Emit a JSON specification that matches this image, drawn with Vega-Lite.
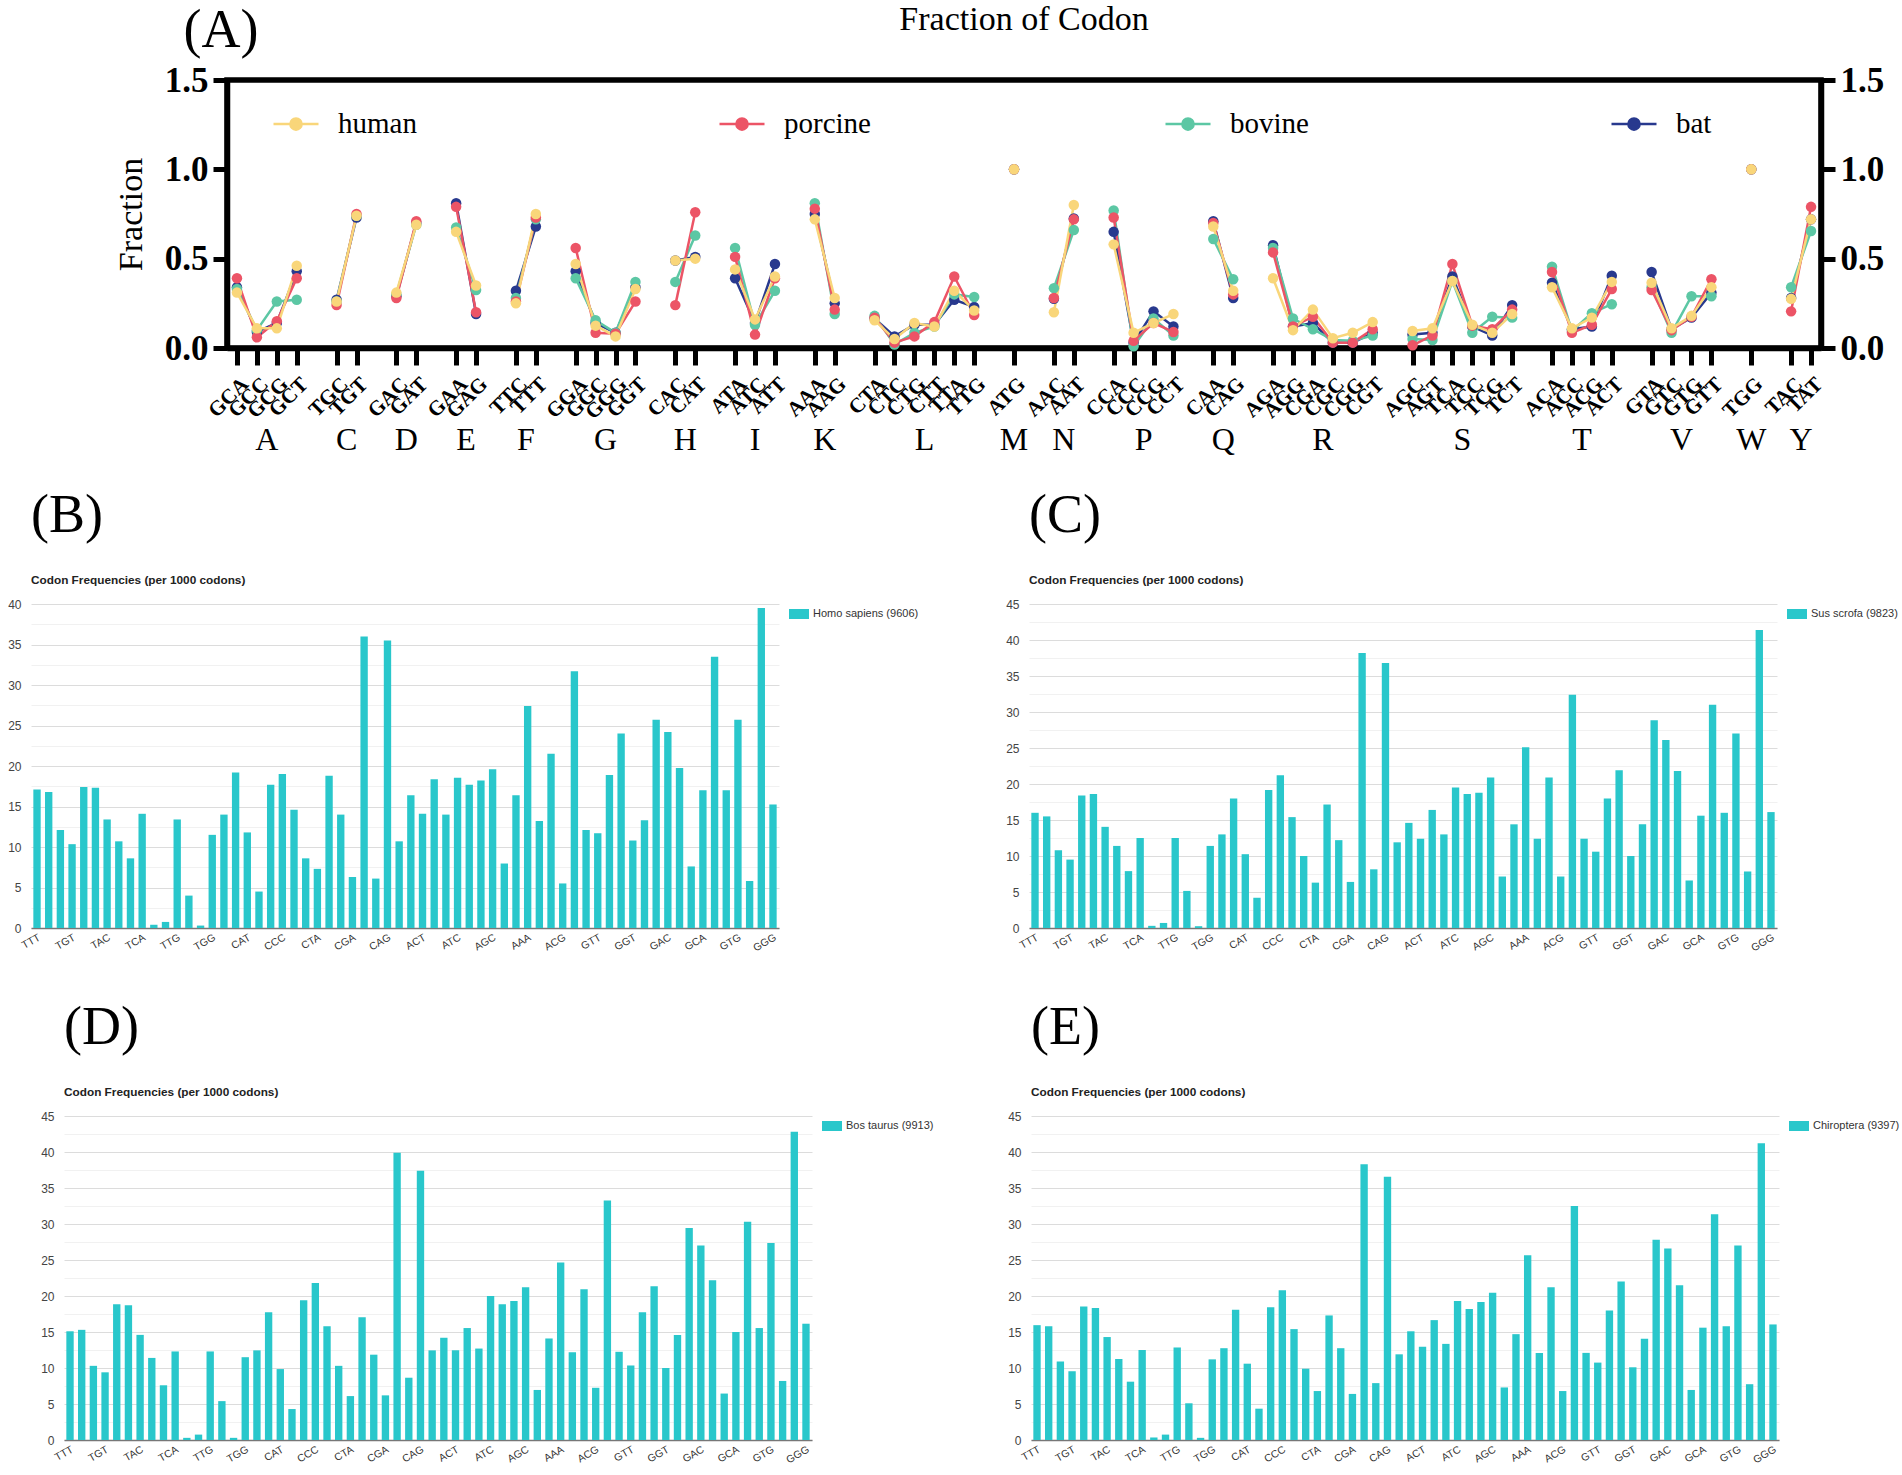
{
  "$schema": "https://vega.github.io/schema/vega-lite/v6.json",
  "background": "white",
  "padding": {"left": 7, "top": 0, "right": 0, "bottom": 0},
  "config": {"view": {"stroke": null}, "font": "Liberation Sans"},
  "resolve": {"scale": {"color": "independent"}, "legend": {"color": "independent"}},
  "spacing": 30,
  "datasets": {
    "frac": [
      {"species":"bat","aa":"A","codon":"GCA","frac":0.34},{"species":"bat","aa":"A","codon":"GCC","frac":0.09},{"species":"bat","aa":"A","codon":"GCG","frac":0.14},{"species":"bat","aa":"A","codon":"GCT","frac":0.43},
      {"species":"bat","aa":"C","codon":"TGC","frac":0.27},{"species":"bat","aa":"C","codon":"TGT","frac":0.73},
      {"species":"bat","aa":"D","codon":"GAC","frac":0.29},{"species":"bat","aa":"D","codon":"GAT","frac":0.70},
      {"species":"bat","aa":"E","codon":"GAA","frac":0.81},{"species":"bat","aa":"E","codon":"GAG","frac":0.19},
      {"species":"bat","aa":"F","codon":"TTC","frac":0.32},{"species":"bat","aa":"F","codon":"TTT","frac":0.68},
      {"species":"bat","aa":"G","codon":"GGA","frac":0.43},{"species":"bat","aa":"G","codon":"GGC","frac":0.14},{"species":"bat","aa":"G","codon":"GGG","frac":0.085},{"species":"bat","aa":"G","codon":"GGT","frac":0.34},
      {"species":"bat","aa":"H","codon":"CAC","frac":0.49},{"species":"bat","aa":"H","codon":"CAT","frac":0.51},
      {"species":"bat","aa":"I","codon":"ATA","frac":0.39},{"species":"bat","aa":"I","codon":"ATC","frac":0.14},{"species":"bat","aa":"I","codon":"ATT","frac":0.47},
      {"species":"bat","aa":"K","codon":"AAA","frac":0.75},{"species":"bat","aa":"K","codon":"AAG","frac":0.25},
      {"species":"bat","aa":"L","codon":"CTA","frac":0.165},{"species":"bat","aa":"L","codon":"CTC","frac":0.065},{"species":"bat","aa":"L","codon":"CTG","frac":0.13},{"species":"bat","aa":"L","codon":"CTT","frac":0.13},{"species":"bat","aa":"L","codon":"TTA","frac":0.27},{"species":"bat","aa":"L","codon":"TTG","frac":0.23},
      {"species":"bat","aa":"M","codon":"ATG","frac":1.0},
      {"species":"bat","aa":"N","codon":"AAC","frac":0.275},{"species":"bat","aa":"N","codon":"AAT","frac":0.725},
      {"species":"bat","aa":"P","codon":"CCA","frac":0.65},{"species":"bat","aa":"P","codon":"CCC","frac":0.03},{"species":"bat","aa":"P","codon":"CCG","frac":0.205},{"species":"bat","aa":"P","codon":"CCT","frac":0.12},
      {"species":"bat","aa":"Q","codon":"CAA","frac":0.71},{"species":"bat","aa":"Q","codon":"CAG","frac":0.28},
      {"species":"bat","aa":"R","codon":"AGA","frac":0.575},{"species":"bat","aa":"R","codon":"AGG","frac":0.12},{"species":"bat","aa":"R","codon":"CGA","frac":0.14},{"species":"bat","aa":"R","codon":"CGC","frac":0.03},{"species":"bat","aa":"R","codon":"CGG","frac":0.03},{"species":"bat","aa":"R","codon":"CGT","frac":0.085},
      {"species":"bat","aa":"S","codon":"AGC","frac":0.075},{"species":"bat","aa":"S","codon":"AGT","frac":0.085},{"species":"bat","aa":"S","codon":"TCA","frac":0.40},{"species":"bat","aa":"S","codon":"TCC","frac":0.12},{"species":"bat","aa":"S","codon":"TCG","frac":0.07},{"species":"bat","aa":"S","codon":"TCT","frac":0.24},
      {"species":"bat","aa":"T","codon":"ACA","frac":0.365},{"species":"bat","aa":"T","codon":"ACC","frac":0.105},{"species":"bat","aa":"T","codon":"ACG","frac":0.12},{"species":"bat","aa":"T","codon":"ACT","frac":0.405},
      {"species":"bat","aa":"V","codon":"GTA","frac":0.425},{"species":"bat","aa":"V","codon":"GTC","frac":0.105},{"species":"bat","aa":"V","codon":"GTG","frac":0.17},{"species":"bat","aa":"V","codon":"GTT","frac":0.31},
      {"species":"bat","aa":"W","codon":"TGG","frac":1.0},
      {"species":"bat","aa":"Y","codon":"TAC","frac":0.28},{"species":"bat","aa":"Y","codon":"TAT","frac":0.72},

      {"species":"bovine","aa":"A","codon":"GCA","frac":0.33},{"species":"bovine","aa":"A","codon":"GCC","frac":0.10},{"species":"bovine","aa":"A","codon":"GCG","frac":0.26},{"species":"bovine","aa":"A","codon":"GCT","frac":0.27},
      {"species":"bovine","aa":"C","codon":"TGC","frac":0.26},{"species":"bovine","aa":"C","codon":"TGT","frac":0.74},
      {"species":"bovine","aa":"D","codon":"GAC","frac":0.30},{"species":"bovine","aa":"D","codon":"GAT","frac":0.69},
      {"species":"bovine","aa":"E","codon":"GAA","frac":0.675},{"species":"bovine","aa":"E","codon":"GAG","frac":0.325},
      {"species":"bovine","aa":"F","codon":"TTC","frac":0.28},{"species":"bovine","aa":"F","codon":"TTT","frac":0.72},
      {"species":"bovine","aa":"G","codon":"GGA","frac":0.39},{"species":"bovine","aa":"G","codon":"GGC","frac":0.155},{"species":"bovine","aa":"G","codon":"GGG","frac":0.085},{"species":"bovine","aa":"G","codon":"GGT","frac":0.37},
      {"species":"bovine","aa":"H","codon":"CAC","frac":0.37},{"species":"bovine","aa":"H","codon":"CAT","frac":0.63},
      {"species":"bovine","aa":"I","codon":"ATA","frac":0.56},{"species":"bovine","aa":"I","codon":"ATC","frac":0.13},{"species":"bovine","aa":"I","codon":"ATT","frac":0.32},
      {"species":"bovine","aa":"K","codon":"AAA","frac":0.81},{"species":"bovine","aa":"K","codon":"AAG","frac":0.19},
      {"species":"bovine","aa":"L","codon":"CTA","frac":0.18},{"species":"bovine","aa":"L","codon":"CTC","frac":0.02},{"species":"bovine","aa":"L","codon":"CTG","frac":0.085},{"species":"bovine","aa":"L","codon":"CTT","frac":0.12},{"species":"bovine","aa":"L","codon":"TTA","frac":0.30},{"species":"bovine","aa":"L","codon":"TTG","frac":0.285},
      {"species":"bovine","aa":"M","codon":"ATG","frac":1.0},
      {"species":"bovine","aa":"N","codon":"AAC","frac":0.335},{"species":"bovine","aa":"N","codon":"AAT","frac":0.66},
      {"species":"bovine","aa":"P","codon":"CCA","frac":0.77},{"species":"bovine","aa":"P","codon":"CCC","frac":0.01},{"species":"bovine","aa":"P","codon":"CCG","frac":0.165},{"species":"bovine","aa":"P","codon":"CCT","frac":0.07},
      {"species":"bovine","aa":"Q","codon":"CAA","frac":0.61},{"species":"bovine","aa":"Q","codon":"CAG","frac":0.385},
      {"species":"bovine","aa":"R","codon":"AGA","frac":0.56},{"species":"bovine","aa":"R","codon":"AGG","frac":0.165},{"species":"bovine","aa":"R","codon":"CGA","frac":0.105},{"species":"bovine","aa":"R","codon":"CGC","frac":0.045},{"species":"bovine","aa":"R","codon":"CGG","frac":0.04},{"species":"bovine","aa":"R","codon":"CGT","frac":0.07},
      {"species":"bovine","aa":"S","codon":"AGC","frac":0.05},{"species":"bovine","aa":"S","codon":"AGT","frac":0.045},{"species":"bovine","aa":"S","codon":"TCA","frac":0.375},{"species":"bovine","aa":"S","codon":"TCC","frac":0.085},{"species":"bovine","aa":"S","codon":"TCG","frac":0.175},{"species":"bovine","aa":"S","codon":"TCT","frac":0.17},
      {"species":"bovine","aa":"T","codon":"ACA","frac":0.455},{"species":"bovine","aa":"T","codon":"ACC","frac":0.095},{"species":"bovine","aa":"T","codon":"ACG","frac":0.195},{"species":"bovine","aa":"T","codon":"ACT","frac":0.245},
      {"species":"bovine","aa":"V","codon":"GTA","frac":0.34},{"species":"bovine","aa":"V","codon":"GTC","frac":0.085},{"species":"bovine","aa":"V","codon":"GTG","frac":0.29},{"species":"bovine","aa":"V","codon":"GTT","frac":0.29},
      {"species":"bovine","aa":"W","codon":"TGG","frac":1.0},
      {"species":"bovine","aa":"Y","codon":"TAC","frac":0.34},{"species":"bovine","aa":"Y","codon":"TAT","frac":0.655},

      {"species":"porcine","aa":"A","codon":"GCA","frac":0.39},{"species":"porcine","aa":"A","codon":"GCC","frac":0.06},{"species":"porcine","aa":"A","codon":"GCG","frac":0.15},{"species":"porcine","aa":"A","codon":"GCT","frac":0.39},
      {"species":"porcine","aa":"C","codon":"TGC","frac":0.24},{"species":"porcine","aa":"C","codon":"TGT","frac":0.75},
      {"species":"porcine","aa":"D","codon":"GAC","frac":0.28},{"species":"porcine","aa":"D","codon":"GAT","frac":0.71},
      {"species":"porcine","aa":"E","codon":"GAA","frac":0.79},{"species":"porcine","aa":"E","codon":"GAG","frac":0.20},
      {"species":"porcine","aa":"F","codon":"TTC","frac":0.26},{"species":"porcine","aa":"F","codon":"TTT","frac":0.73},
      {"species":"porcine","aa":"G","codon":"GGA","frac":0.56},{"species":"porcine","aa":"G","codon":"GGC","frac":0.085},{"species":"porcine","aa":"G","codon":"GGG","frac":0.08},{"species":"porcine","aa":"G","codon":"GGT","frac":0.26},
      {"species":"porcine","aa":"H","codon":"CAC","frac":0.24},{"species":"porcine","aa":"H","codon":"CAT","frac":0.76},
      {"species":"porcine","aa":"I","codon":"ATA","frac":0.51},{"species":"porcine","aa":"I","codon":"ATC","frac":0.075},{"species":"porcine","aa":"I","codon":"ATT","frac":0.39},
      {"species":"porcine","aa":"K","codon":"AAA","frac":0.78},{"species":"porcine","aa":"K","codon":"AAG","frac":0.215},
      {"species":"porcine","aa":"L","codon":"CTA","frac":0.17},{"species":"porcine","aa":"L","codon":"CTC","frac":0.03},{"species":"porcine","aa":"L","codon":"CTG","frac":0.065},{"species":"porcine","aa":"L","codon":"CTT","frac":0.145},{"species":"porcine","aa":"L","codon":"TTA","frac":0.40},{"species":"porcine","aa":"L","codon":"TTG","frac":0.185},
      {"species":"porcine","aa":"M","codon":"ATG","frac":1.0},
      {"species":"porcine","aa":"N","codon":"AAC","frac":0.28},{"species":"porcine","aa":"N","codon":"AAT","frac":0.72},
      {"species":"porcine","aa":"P","codon":"CCA","frac":0.73},{"species":"porcine","aa":"P","codon":"CCC","frac":0.04},{"species":"porcine","aa":"P","codon":"CCG","frac":0.14},{"species":"porcine","aa":"P","codon":"CCT","frac":0.09},
      {"species":"porcine","aa":"Q","codon":"CAA","frac":0.70},{"species":"porcine","aa":"Q","codon":"CAG","frac":0.30},
      {"species":"porcine","aa":"R","codon":"AGA","frac":0.535},{"species":"porcine","aa":"R","codon":"AGG","frac":0.12},{"species":"porcine","aa":"R","codon":"CGA","frac":0.175},{"species":"porcine","aa":"R","codon":"CGC","frac":0.03},{"species":"porcine","aa":"R","codon":"CGG","frac":0.03},{"species":"porcine","aa":"R","codon":"CGT","frac":0.105},
      {"species":"porcine","aa":"S","codon":"AGC","frac":0.015},{"species":"porcine","aa":"S","codon":"AGT","frac":0.07},{"species":"porcine","aa":"S","codon":"TCA","frac":0.47},{"species":"porcine","aa":"S","codon":"TCC","frac":0.125},{"species":"porcine","aa":"S","codon":"TCG","frac":0.105},{"species":"porcine","aa":"S","codon":"TCT","frac":0.215},
      {"species":"porcine","aa":"T","codon":"ACA","frac":0.425},{"species":"porcine","aa":"T","codon":"ACC","frac":0.085},{"species":"porcine","aa":"T","codon":"ACG","frac":0.13},{"species":"porcine","aa":"T","codon":"ACT","frac":0.33},
      {"species":"porcine","aa":"V","codon":"GTA","frac":0.325},{"species":"porcine","aa":"V","codon":"GTC","frac":0.10},{"species":"porcine","aa":"V","codon":"GTG","frac":0.175},{"species":"porcine","aa":"V","codon":"GTT","frac":0.385},
      {"species":"porcine","aa":"W","codon":"TGG","frac":1.0},
      {"species":"porcine","aa":"Y","codon":"TAC","frac":0.205},{"species":"porcine","aa":"Y","codon":"TAT","frac":0.79},

      {"species":"human","aa":"A","codon":"GCA","frac":0.31},{"species":"human","aa":"A","codon":"GCC","frac":0.11},{"species":"human","aa":"A","codon":"GCG","frac":0.11},{"species":"human","aa":"A","codon":"GCT","frac":0.46},
      {"species":"human","aa":"C","codon":"TGC","frac":0.26},{"species":"human","aa":"C","codon":"TGT","frac":0.74},
      {"species":"human","aa":"D","codon":"GAC","frac":0.31},{"species":"human","aa":"D","codon":"GAT","frac":0.69},
      {"species":"human","aa":"E","codon":"GAA","frac":0.65},{"species":"human","aa":"E","codon":"GAG","frac":0.35},
      {"species":"human","aa":"F","codon":"TTC","frac":0.25},{"species":"human","aa":"F","codon":"TTT","frac":0.75},
      {"species":"human","aa":"G","codon":"GGA","frac":0.47},{"species":"human","aa":"G","codon":"GGC","frac":0.125},{"species":"human","aa":"G","codon":"GGG","frac":0.065},{"species":"human","aa":"G","codon":"GGT","frac":0.33},
      {"species":"human","aa":"H","codon":"CAC","frac":0.49},{"species":"human","aa":"H","codon":"CAT","frac":0.50},
      {"species":"human","aa":"I","codon":"ATA","frac":0.44},{"species":"human","aa":"I","codon":"ATC","frac":0.16},{"species":"human","aa":"I","codon":"ATT","frac":0.40},
      {"species":"human","aa":"K","codon":"AAA","frac":0.72},{"species":"human","aa":"K","codon":"AAG","frac":0.28},
      {"species":"human","aa":"L","codon":"CTA","frac":0.155},{"species":"human","aa":"L","codon":"CTC","frac":0.05},{"species":"human","aa":"L","codon":"CTG","frac":0.14},{"species":"human","aa":"L","codon":"CTT","frac":0.12},{"species":"human","aa":"L","codon":"TTA","frac":0.32},{"species":"human","aa":"L","codon":"TTG","frac":0.21},
      {"species":"human","aa":"M","codon":"ATG","frac":1.0},
      {"species":"human","aa":"N","codon":"AAC","frac":0.20},{"species":"human","aa":"N","codon":"AAT","frac":0.80},
      {"species":"human","aa":"P","codon":"CCA","frac":0.58},{"species":"human","aa":"P","codon":"CCC","frac":0.085},{"species":"human","aa":"P","codon":"CCG","frac":0.14},{"species":"human","aa":"P","codon":"CCT","frac":0.19},
      {"species":"human","aa":"Q","codon":"CAA","frac":0.68},{"species":"human","aa":"Q","codon":"CAG","frac":0.32},
      {"species":"human","aa":"R","codon":"AGA","frac":0.39},{"species":"human","aa":"R","codon":"AGG","frac":0.10},{"species":"human","aa":"R","codon":"CGA","frac":0.215},{"species":"human","aa":"R","codon":"CGC","frac":0.055},{"species":"human","aa":"R","codon":"CGG","frac":0.085},{"species":"human","aa":"R","codon":"CGT","frac":0.145},
      {"species":"human","aa":"S","codon":"AGC","frac":0.095},{"species":"human","aa":"S","codon":"AGT","frac":0.11},{"species":"human","aa":"S","codon":"TCA","frac":0.375},{"species":"human","aa":"S","codon":"TCC","frac":0.13},{"species":"human","aa":"S","codon":"TCG","frac":0.085},{"species":"human","aa":"S","codon":"TCT","frac":0.19},
      {"species":"human","aa":"T","codon":"ACA","frac":0.34},{"species":"human","aa":"T","codon":"ACC","frac":0.11},{"species":"human","aa":"T","codon":"ACG","frac":0.17},{"species":"human","aa":"T","codon":"ACT","frac":0.37},
      {"species":"human","aa":"V","codon":"GTA","frac":0.365},{"species":"human","aa":"V","codon":"GTC","frac":0.11},{"species":"human","aa":"V","codon":"GTG","frac":0.18},{"species":"human","aa":"V","codon":"GTT","frac":0.34},
      {"species":"human","aa":"W","codon":"TGG","frac":1.0},
      {"species":"human","aa":"Y","codon":"TAC","frac":0.275},{"species":"human","aa":"Y","codon":"TAT","frac":0.72}
    ],
    "aminos": [
      {"aa":"A","codon":"GCC","n":4},{"aa":"C","codon":"TGC","n":2},{"aa":"D","codon":"GAC","n":2},{"aa":"E","codon":"GAA","n":2},
      {"aa":"F","codon":"TTC","n":2},{"aa":"G","codon":"GGC","n":4},{"aa":"H","codon":"CAC","n":2},{"aa":"I","codon":"ATC","n":3},
      {"aa":"K","codon":"AAA","n":2},{"aa":"L","codon":"CTG","n":6},{"aa":"M","codon":"ATG","n":1},{"aa":"N","codon":"AAC","n":2},
      {"aa":"P","codon":"CCC","n":4},{"aa":"Q","codon":"CAA","n":2},{"aa":"R","codon":"CGA","n":6},{"aa":"S","codon":"TCA","n":6},
      {"aa":"T","codon":"ACC","n":4},{"aa":"V","codon":"GTC","n":4},{"aa":"W","codon":"TGG","n":1},{"aa":"Y","codon":"TAC","n":2}
    ],
    "hs": [
      {"codon":"TTT","freq":17.1},{"codon":"TCT","freq":16.8},{"codon":"TAT","freq":12.1},{"codon":"TGT","freq":10.35},
      {"codon":"TTC","freq":17.4},{"codon":"TCC","freq":17.3},{"codon":"TAC","freq":13.4},{"codon":"TGC","freq":10.7},
      {"codon":"TTA","freq":8.6},{"codon":"TCA","freq":14.1},{"codon":"TAA","freq":0.4},{"codon":"TGA","freq":0.75},
      {"codon":"TTG","freq":13.4},{"codon":"TCG","freq":4.0},{"codon":"TAG","freq":0.3},{"codon":"TGG","freq":11.5},
      {"codon":"CTT","freq":14.0},{"codon":"CCT","freq":19.2},{"codon":"CAT","freq":11.8},{"codon":"CGT","freq":4.5},
      {"codon":"CTC","freq":17.7},{"codon":"CCC","freq":19.0},{"codon":"CAC","freq":14.6},{"codon":"CGC","freq":8.6},
      {"codon":"CTA","freq":7.3},{"codon":"CCA","freq":18.8},{"codon":"CAA","freq":14.0},{"codon":"CGA","freq":6.3},
      {"codon":"CTG","freq":36.0},{"codon":"CCG","freq":6.1},{"codon":"CAG","freq":35.5},{"codon":"CGG","freq":10.7},
      {"codon":"ATT","freq":16.4},{"codon":"ACT","freq":14.1},{"codon":"AAT","freq":18.35},{"codon":"AGT","freq":14.0},
      {"codon":"ATC","freq":18.55},{"codon":"ACC","freq":17.7},{"codon":"AAC","freq":18.2},{"codon":"AGC","freq":19.6},
      {"codon":"ATA","freq":7.96},{"codon":"ACA","freq":16.4},{"codon":"AAA","freq":27.4},{"codon":"AGA","freq":13.2},
      {"codon":"ATG","freq":21.5},{"codon":"ACG","freq":5.5},{"codon":"AAG","freq":31.7},{"codon":"AGG","freq":12.1},
      {"codon":"GTT","freq":11.7},{"codon":"GCT","freq":18.9},{"codon":"GAT","freq":24.0},{"codon":"GGT","freq":10.8},
      {"codon":"GTC","freq":13.3},{"codon":"GCC","freq":25.7},{"codon":"GAC","freq":24.2},{"codon":"GGC","freq":19.75},
      {"codon":"GTA","freq":7.6},{"codon":"GCA","freq":17.0},{"codon":"GAA","freq":33.5},{"codon":"GGA","freq":17.0},
      {"codon":"GTG","freq":25.7},{"codon":"GCG","freq":5.8},{"codon":"GAG","freq":39.5},{"codon":"GGG","freq":15.25}
    ],
    "ss": [
      {"codon":"TTT","freq":16.0},{"codon":"TCT","freq":15.5},{"codon":"TAT","freq":10.8},{"codon":"TGT","freq":9.5},
      {"codon":"TTC","freq":18.4},{"codon":"TCC","freq":18.6},{"codon":"TAC","freq":14.05},{"codon":"TGC","freq":11.4},
      {"codon":"TTA","freq":7.9},{"codon":"TCA","freq":12.5},{"codon":"TAA","freq":0.3},{"codon":"TGA","freq":0.7},
      {"codon":"TTG","freq":12.5},{"codon":"TCG","freq":5.15},{"codon":"TAG","freq":0.25},{"codon":"TGG","freq":11.4},
      {"codon":"CTT","freq":13.0},{"codon":"CCT","freq":18.0},{"codon":"CAT","freq":10.25},{"codon":"CGT","freq":4.2},
      {"codon":"CTC","freq":19.15},{"codon":"CCC","freq":21.2},{"codon":"CAC","freq":15.4},{"codon":"CGC","freq":10.0},
      {"codon":"CTA","freq":6.3},{"codon":"CCA","freq":17.15},{"codon":"CAA","freq":12.2},{"codon":"CGA","freq":6.4},
      {"codon":"CTG","freq":38.2},{"codon":"CCG","freq":8.15},{"codon":"CAG","freq":36.8},{"codon":"CGG","freq":11.9},
      {"codon":"ATT","freq":14.6},{"codon":"ACT","freq":12.4},{"codon":"AAT","freq":16.4},{"codon":"AGT","freq":13.0},
      {"codon":"ATC","freq":19.5},{"codon":"ACC","freq":18.6},{"codon":"AAC","freq":18.8},{"codon":"AGC","freq":20.9},
      {"codon":"ATA","freq":7.15},{"codon":"ACA","freq":14.4},{"codon":"AAA","freq":25.1},{"codon":"AGA","freq":12.4},
      {"codon":"ATG","freq":20.9},{"codon":"ACG","freq":7.15},{"codon":"AAG","freq":32.4},{"codon":"AGG","freq":12.4},
      {"codon":"GTT","freq":10.6},{"codon":"GCT","freq":18.0},{"codon":"GAT","freq":21.9},{"codon":"GGT","freq":10.0},
      {"codon":"GTC","freq":14.4},{"codon":"GCC","freq":28.85},{"codon":"GAC","freq":26.1},{"codon":"GGC","freq":21.8},
      {"codon":"GTA","freq":6.6},{"codon":"GCA","freq":15.6},{"codon":"GAA","freq":31.0},{"codon":"GGA","freq":16.0},
      {"codon":"GTG","freq":27.0},{"codon":"GCG","freq":7.85},{"codon":"GAG","freq":41.4},{"codon":"GGG","freq":16.1}
    ],
    "bt": [
      {"codon":"TTT","freq":15.1},{"codon":"TCT","freq":15.3},{"codon":"TAT","freq":10.3},{"codon":"TGT","freq":9.4},
      {"codon":"TTC","freq":18.85},{"codon":"TCC","freq":18.7},{"codon":"TAC","freq":14.6},{"codon":"TGC","freq":11.4},
      {"codon":"TTA","freq":7.6},{"codon":"TCA","freq":12.3},{"codon":"TAA","freq":0.3},{"codon":"TGA","freq":0.75},
      {"codon":"TTG","freq":12.3},{"codon":"TCG","freq":5.4},{"codon":"TAG","freq":0.3},{"codon":"TGG","freq":11.5},
      {"codon":"CTT","freq":12.45},{"codon":"CCT","freq":17.75},{"codon":"CAT","freq":9.85},{"codon":"CGT","freq":4.3},
      {"codon":"CTC","freq":19.4},{"codon":"CCC","freq":21.8},{"codon":"CAC","freq":15.8},{"codon":"CGC","freq":10.3},
      {"codon":"CTA","freq":6.1},{"codon":"CCA","freq":17.05},{"codon":"CAA","freq":11.85},{"codon":"CGA","freq":6.2},
      {"codon":"CTG","freq":39.9},{"codon":"CCG","freq":8.65},{"codon":"CAG","freq":37.4},{"codon":"CGG","freq":12.45},
      {"codon":"ATT","freq":14.2},{"codon":"ACT","freq":12.45},{"codon":"AAT","freq":15.55},{"codon":"AGT","freq":12.7},
      {"codon":"ATC","freq":20.0},{"codon":"ACC","freq":18.85},{"codon":"AAC","freq":19.3},{"codon":"AGC","freq":21.2},
      {"codon":"ATA","freq":6.95},{"codon":"ACA","freq":14.1},{"codon":"AAA","freq":24.65},{"codon":"AGA","freq":12.2},
      {"codon":"ATG","freq":20.95},{"codon":"ACG","freq":7.25},{"codon":"AAG","freq":33.25},{"codon":"AGG","freq":12.25},
      {"codon":"GTT","freq":10.35},{"codon":"GCT","freq":17.75},{"codon":"GAT","freq":21.35},{"codon":"GGT","freq":10.0},
      {"codon":"GTC","freq":14.6},{"codon":"GCC","freq":29.45},{"codon":"GAC","freq":27.0},{"codon":"GGC","freq":22.2},
      {"codon":"GTA","freq":6.45},{"codon":"GCA","freq":15.0},{"codon":"GAA","freq":30.3},{"codon":"GGA","freq":15.55},
      {"codon":"GTG","freq":27.35},{"codon":"GCG","freq":8.2},{"codon":"GAG","freq":42.8},{"codon":"GGG","freq":16.15}
    ],
    "ch": [
      {"codon":"TTT","freq":15.95},{"codon":"TCT","freq":15.8},{"codon":"TAT","freq":10.9},{"codon":"TGT","freq":9.55},
      {"codon":"TTC","freq":18.55},{"codon":"TCC","freq":18.35},{"codon":"TAC","freq":14.3},{"codon":"TGC","freq":11.25},
      {"codon":"TTA","freq":8.1},{"codon":"TCA","freq":12.5},{"codon":"TAA","freq":0.35},{"codon":"TGA","freq":0.75},
      {"codon":"TTG","freq":12.85},{"codon":"TCG","freq":5.1},{"codon":"TAG","freq":0.3},{"codon":"TGG","freq":11.2},
      {"codon":"CTT","freq":12.75},{"codon":"CCT","freq":18.1},{"codon":"CAT","freq":10.6},{"codon":"CGT","freq":4.35},
      {"codon":"CTC","freq":18.45},{"codon":"CCC","freq":20.8},{"codon":"CAC","freq":15.4},{"codon":"CGC","freq":9.9},
      {"codon":"CTA","freq":6.8},{"codon":"CCA","freq":17.3},{"codon":"CAA","freq":12.75},{"codon":"CGA","freq":6.4},
      {"codon":"CTG","freq":38.3},{"codon":"CCG","freq":7.9},{"codon":"CAG","freq":36.55},{"codon":"CGG","freq":11.9},
      {"codon":"ATT","freq":15.1},{"codon":"ACT","freq":12.95},{"codon":"AAT","freq":16.65},{"codon":"AGT","freq":13.35},
      {"codon":"ATC","freq":19.3},{"codon":"ACC","freq":18.2},{"codon":"AAC","freq":19.15},{"codon":"AGC","freq":20.45},
      {"codon":"ATA","freq":7.3},{"codon":"ACA","freq":14.7},{"codon":"AAA","freq":25.65},{"codon":"AGA","freq":12.1},
      {"codon":"ATG","freq":21.2},{"codon":"ACG","freq":6.8},{"codon":"AAG","freq":32.5},{"codon":"AGG","freq":12.1},
      {"codon":"GTT","freq":10.75},{"codon":"GCT","freq":18.0},{"codon":"GAT","freq":22.0},{"codon":"GGT","freq":10.1},
      {"codon":"GTC","freq":14.05},{"codon":"GCC","freq":27.8},{"codon":"GAC","freq":26.6},{"codon":"GGC","freq":21.5},
      {"codon":"GTA","freq":6.95},{"codon":"GCA","freq":15.6},{"codon":"GAA","freq":31.35},{"codon":"GGA","freq":15.8},
      {"codon":"GTG","freq":27.0},{"codon":"GCG","freq":7.75},{"codon":"GAG","freq":41.2},{"codon":"GGG","freq":16.05}
    ]
  },
  "vconcat": [
    {
      "spacing": 1,
      "resolve": {"scale": {"color": "independent"}, "legend": {"color": "independent"}},
      "hconcat": [
        {"width": 79, "height": 1, "data": {"values": []}, "mark": "point"},
        {
          "name": "pa",
          "width": 1594,
          "height": 268,
          "view": {"stroke": "black", "strokeWidth": 5.5},
          "title": {"text": "Fraction of Codon", "anchor": "middle", "frame": "group", "font": "Liberation Serif", "fontSize": 34, "fontWeight": "normal", "color": "black", "offset": -33},
          "encoding": {
            "x": {
              "field": "codon", "type": "ordinal",
              "scale": {"type": "point", "padding": 0.5, "domain": ["GCA","GCC","GCG","GCT","g1","TGC","TGT","g2","GAC","GAT","g3","GAA","GAG","g4","TTC","TTT","g5","GGA","GGC","GGG","GGT","g6","CAC","CAT","g7","ATA","ATC","ATT","g8","AAA","AAG","g9","CTA","CTC","CTG","CTT","TTA","TTG","g10","ATG","g11","AAC","AAT","g12","CCA","CCC","CCG","CCT","g13","CAA","CAG","g14","AGA","AGG","CGA","CGC","CGG","CGT","g15","AGC","AGT","TCA","TCC","TCG","TCT","g16","ACA","ACC","ACG","ACT","g17","GTA","GTC","GTG","GTT","g18","TGG","g19","TAC","TAT"]},
              "axis": {
                "values": ["GCA","GCC","GCG","GCT","TGC","TGT","GAC","GAT","GAA","GAG","TTC","TTT","GGA","GGC","GGG","GGT","CAC","CAT","ATA","ATC","ATT","AAA","AAG","CTA","CTC","CTG","CTT","TTA","TTG","ATG","AAC","AAT","CCA","CCC","CCG","CCT","CAA","CAG","AGA","AGG","CGA","CGC","CGG","CGT","AGC","AGT","TCA","TCC","TCG","TCT","ACA","ACC","ACG","ACT","GTA","GTC","GTG","GTT","TGG","TAC","TAT"],
                "title": null, "labelAngle": -45, "labelFont": "Liberation Serif", "labelFontWeight": "bold", "labelFontSize": 21, "labelColor": "black",
                "labelOverlap": false, "labelBound": false, "labelPadding": 8, "tickColor": "black", "tickWidth": 5, "tickSize": 17,
                "domainColor": "black", "domainWidth": 5.5, "grid": false
              }
            }
          },
          "layer": [
            {
              "data": {"name": "frac"},
              "mark": {"type": "line", "strokeWidth": 2.5},
              "encoding": {
                "y": {"field": "frac", "type": "quantitative", "scale": {"domain": [0, 1.5], "nice": false},
                  "axis": {"orient": "left", "values": [0, 0.5, 1, 1.5], "format": ".1f", "title": "Fraction", "titleFont": "Liberation Serif", "titleFontSize": 34, "titleFontWeight": "normal", "titleColor": "black", "titlePadding": 16,
                    "labelFont": "Liberation Serif", "labelFontSize": 35, "labelFontWeight": "bold", "labelColor": "black", "labelPadding": 5, "labelFlush": false,
                    "tickColor": "black", "tickWidth": 5, "tickSize": 14, "domainColor": "black", "domainWidth": 5.5, "grid": false}},
                "color": {"field": "species", "type": "nominal",
                  "scale": {"domain": ["human", "porcine", "bovine", "bat"], "range": ["#F9D67A", "#EC5466", "#5CC7A4", "#28398E"]},
                  "legend": {"title": null, "orient": "top-left", "offset": 20, "symbolOffset": 25, "direction": "horizontal", "padding": 0, "gridAlign": "all", "columnPadding": 268,
                    "symbolType": "M-1,0H1M-0.25,0A0.25,0.25,0,1,1,0.25,0A0.25,0.25,0,1,1,-0.25,0Z", "symbolSize": 2025, "symbolStrokeWidth": 2.5,
                    "labelFont": "Liberation Serif", "labelFontSize": 29, "labelColor": "black", "labelOffset": 18,
                    "encode": {"symbols": {"update": {"fill": {"scale": "pa_color", "field": "value"}, "stroke": {"scale": "pa_color", "field": "value"}}}}}},
                "detail": {"field": "aa"}
              }
            },
            {
              "data": {"name": "frac"},
              "mark": {"type": "circle", "size": 110, "opacity": 1},
              "encoding": {
                "y": {"field": "frac", "type": "quantitative", "scale": {"domain": [0, 1.5], "nice": false},
                  "axis": {"orient": "right", "values": [0, 0.5, 1, 1.5], "format": ".1f", "title": null,
                    "labelFont": "Liberation Serif", "labelFontSize": 35, "labelFontWeight": "bold", "labelColor": "black", "labelPadding": 5, "labelFlush": false,
                    "tickColor": "black", "tickWidth": 5, "tickSize": 14, "domainColor": "black", "domainWidth": 5.5, "grid": false}},
                "color": {"field": "species", "type": "nominal",
                  "scale": {"domain": ["human", "porcine", "bovine", "bat"], "range": ["#F9D67A", "#EC5466", "#5CC7A4", "#28398E"]},
                  "legend": {"title": null, "orient": "top-left", "offset": 20, "symbolOffset": 25, "direction": "horizontal", "padding": 0, "gridAlign": "all", "columnPadding": 268,
                    "symbolType": "M-1,0H1M-0.25,0A0.25,0.25,0,1,1,0.25,0A0.25,0.25,0,1,1,-0.25,0Z", "symbolSize": 2025, "symbolStrokeWidth": 2.5,
                    "labelFont": "Liberation Serif", "labelFontSize": 29, "labelColor": "black", "labelOffset": 18,
                    "encode": {"symbols": {"update": {"fill": {"scale": "pa_color", "field": "value"}, "stroke": {"scale": "pa_color", "field": "value"}}}}}}
              }
            },
            {
              "data": {"name": "aminos"},
              "transform": [{"filter": "datum.n % 2 == 0"}],
              "mark": {"type": "text", "font": "Liberation Serif", "fontSize": 32, "color": "black", "baseline": "middle", "align": "center", "dx": 10, "dy": 92},
              "encoding": {
                "y": {"datum": 0, "scale": {"domain": [0, 1.5], "nice": false}, "axis": null},
                "text": {"field": "aa"}
              }
            },
            {
              "data": {"name": "aminos"},
              "transform": [{"filter": "datum.n % 2 == 1"}],
              "mark": {"type": "text", "font": "Liberation Serif", "fontSize": 32, "color": "black", "baseline": "middle", "align": "center", "dy": 92},
              "encoding": {
                "y": {"datum": 0, "scale": {"domain": [0, 1.5], "nice": false}, "axis": null},
                "text": {"field": "aa"}
              }
            },
            {
              "data": {"values": [{"label": "(A)", "codon": "GCA"}]},
              "mark": {"type": "text", "font": "Liberation Serif", "fontSize": 54, "color": "black", "baseline": "middle", "align": "center", "dx": -16, "dy": -49},
              "encoding": {
                "y": {"datum": 1.5, "scale": {"domain": [0, 1.5], "nice": false}, "axis": null},
                "text": {"field": "label"}
              }
            }
          ],
          "resolve": {"scale": {"y": "independent"}}
        }
      ]
    },
    {
      "spacing": 47,
      "resolve": {"scale": {"color": "independent"}, "legend": {"color": "independent"}},
      "vconcat": [
        {
          "spacing": 86,
          "resolve": {"scale": {"color": "independent"}, "legend": {"color": "independent"}},
          "hconcat": [
            {
              "width": 748, "height": 324,
              "data": {"name": "hs"},
              "title": {"text": "(B)", "subtitle": "Codon Frequencies (per 1000 codons)", "anchor": "start", "frame": "group", "font": "Liberation Serif", "fontSize": 54, "fontWeight": "normal", "color": "black", "subtitleFont": "Liberation Sans", "subtitleFontSize": 11.8, "subtitleFontWeight": "bold", "subtitleColor": "#222", "subtitlePadding": 32, "offset": 11},
              "mark": {"type": "bar"},
              "encoding": {
                "x": {"field": "codon", "type": "nominal", "sort": null, "scale": {"paddingInner": 0.37, "paddingOuter": 0.2},
                  "axis": {"values": ["TTT","TGT","TAC","TCA","TTG","TGG","CAT","CCC","CTA","CGA","CAG","ACT","ATC","AGC","AAA","ACG","GTT","GGT","GAC","GCA","GTG","GGG"], "title": null, "labelAngle": -30, "ticks": false, "labelFont": "Liberation Sans", "labelFontSize": 10.5, "labelColor": "#333", "labelPadding": 4, "domainColor": "#777", "domainWidth": 1.5, "labelOverlap": false, "grid": false}},
                "y": {"field": "freq", "type": "quantitative", "scale": {"domain": [0, 40], "nice": false},
                  "axis": {"values": [0,2.5,5,7.5,10,12.5,15,17.5,20,22.5,25,27.5,30,32.5,35,37.5,40], "labelExpr": "datum.value % 5 == 0 ? datum.label : ''", "title": null, "ticks": false, "domain": false, "labelFont": "Liberation Sans", "labelFontSize": 12, "labelColor": "#444", "labelPadding": 10,
                    "gridColor": {"condition": {"test": "datum.value % 5 == 0", "value": "#dcdcdc"}, "value": "#f1f1f1"}}},
                "color": {"datum": "Homo sapiens (9606)", "type": "nominal", "scale": {"range": ["#29C7CB"]},
                  "legend": {"title": null, "orient": "right", "offset": 10, "padding": 0, "symbolType": "M-1,-0.5H1V0.5H-1Z", "symbolSize": 400, "symbolStrokeWidth": 0, "labelFont": "Liberation Sans", "labelFontSize": 11, "labelColor": "#333", "labelOffset": 4}}
              }
            },
            {
              "width": 748, "height": 324,
              "data": {"name": "ss"},
              "title": {"text": "(C)", "subtitle": "Codon Frequencies (per 1000 codons)", "anchor": "start", "frame": "group", "font": "Liberation Serif", "fontSize": 54, "fontWeight": "normal", "color": "black", "subtitleFont": "Liberation Sans", "subtitleFontSize": 11.8, "subtitleFontWeight": "bold", "subtitleColor": "#222", "subtitlePadding": 32, "offset": 11},
              "mark": {"type": "bar"},
              "encoding": {
                "x": {"field": "codon", "type": "nominal", "sort": null, "scale": {"paddingInner": 0.37, "paddingOuter": 0.2},
                  "axis": {"values": ["TTT","TGT","TAC","TCA","TTG","TGG","CAT","CCC","CTA","CGA","CAG","ACT","ATC","AGC","AAA","ACG","GTT","GGT","GAC","GCA","GTG","GGG"], "title": null, "labelAngle": -30, "ticks": false, "labelFont": "Liberation Sans", "labelFontSize": 10.5, "labelColor": "#333", "labelPadding": 4, "domainColor": "#777", "domainWidth": 1.5, "labelOverlap": false, "grid": false}},
                "y": {"field": "freq", "type": "quantitative", "scale": {"domain": [0, 45], "nice": false},
                  "axis": {"values": [0,2.5,5,7.5,10,12.5,15,17.5,20,22.5,25,27.5,30,32.5,35,37.5,40,42.5,45], "labelExpr": "datum.value % 5 == 0 ? datum.label : ''", "title": null, "ticks": false, "domain": false, "labelFont": "Liberation Sans", "labelFontSize": 12, "labelColor": "#444", "labelPadding": 10,
                    "gridColor": {"condition": {"test": "datum.value % 5 == 0", "value": "#dcdcdc"}, "value": "#f1f1f1"}}},
                "color": {"datum": "Sus scrofa (9823)", "type": "nominal", "scale": {"range": ["#29C7CB"]},
                  "legend": {"title": null, "orient": "right", "offset": 10, "padding": 0, "symbolType": "M-1,-0.5H1V0.5H-1Z", "symbolSize": 400, "symbolStrokeWidth": 0, "labelFont": "Liberation Sans", "labelFontSize": 11, "labelColor": "#333", "labelOffset": 4}}
              }
            }
          ]
        },
        {
          "spacing": 73,
          "resolve": {"scale": {"color": "independent"}, "legend": {"color": "independent"}},
          "hconcat": [
            {
              "spacing": 1,
              "resolve": {"scale": {"color": "independent"}, "legend": {"color": "independent"}},
              "hconcat": [
                {"width": 8, "height": 1, "data": {"values": []}, "mark": "point"},
                {
                  "width": 748, "height": 324,
                  "data": {"name": "bt"},
                  "title": {"text": "(D)", "subtitle": "Codon Frequencies (per 1000 codons)", "anchor": "start", "frame": "group", "font": "Liberation Serif", "fontSize": 54, "fontWeight": "normal", "color": "black", "subtitleFont": "Liberation Sans", "subtitleFontSize": 11.8, "subtitleFontWeight": "bold", "subtitleColor": "#222", "subtitlePadding": 32, "offset": 11},
                  "mark": {"type": "bar"},
                  "encoding": {
                    "x": {"field": "codon", "type": "nominal", "sort": null, "scale": {"paddingInner": 0.37, "paddingOuter": 0.2},
                      "axis": {"values": ["TTT","TGT","TAC","TCA","TTG","TGG","CAT","CCC","CTA","CGA","CAG","ACT","ATC","AGC","AAA","ACG","GTT","GGT","GAC","GCA","GTG","GGG"], "title": null, "labelAngle": -30, "ticks": false, "labelFont": "Liberation Sans", "labelFontSize": 10.5, "labelColor": "#333", "labelPadding": 4, "domainColor": "#777", "domainWidth": 1.5, "labelOverlap": false, "grid": false}},
                    "y": {"field": "freq", "type": "quantitative", "scale": {"domain": [0, 45], "nice": false},
                      "axis": {"values": [0,2.5,5,7.5,10,12.5,15,17.5,20,22.5,25,27.5,30,32.5,35,37.5,40,42.5,45], "labelExpr": "datum.value % 5 == 0 ? datum.label : ''", "title": null, "ticks": false, "domain": false, "labelFont": "Liberation Sans", "labelFontSize": 12, "labelColor": "#444", "labelPadding": 10,
                        "gridColor": {"condition": {"test": "datum.value % 5 == 0", "value": "#dcdcdc"}, "value": "#f1f1f1"}}},
                    "color": {"datum": "Bos taurus (9913)", "type": "nominal", "scale": {"range": ["#29C7CB"]},
                      "legend": {"title": null, "orient": "right", "offset": 10, "padding": 0, "symbolType": "M-1,-0.5H1V0.5H-1Z", "symbolSize": 400, "symbolStrokeWidth": 0, "labelFont": "Liberation Sans", "labelFontSize": 11, "labelColor": "#333", "labelOffset": 4}}
                  }
                }
              ]
            },
            {
              "width": 748, "height": 324,
              "data": {"name": "ch"},
              "title": {"text": "(E)", "subtitle": "Codon Frequencies (per 1000 codons)", "anchor": "start", "frame": "group", "font": "Liberation Serif", "fontSize": 54, "fontWeight": "normal", "color": "black", "subtitleFont": "Liberation Sans", "subtitleFontSize": 11.8, "subtitleFontWeight": "bold", "subtitleColor": "#222", "subtitlePadding": 32, "offset": 11},
              "mark": {"type": "bar"},
              "encoding": {
                "x": {"field": "codon", "type": "nominal", "sort": null, "scale": {"paddingInner": 0.37, "paddingOuter": 0.2},
                  "axis": {"values": ["TTT","TGT","TAC","TCA","TTG","TGG","CAT","CCC","CTA","CGA","CAG","ACT","ATC","AGC","AAA","ACG","GTT","GGT","GAC","GCA","GTG","GGG"], "title": null, "labelAngle": -30, "ticks": false, "labelFont": "Liberation Sans", "labelFontSize": 10.5, "labelColor": "#333", "labelPadding": 4, "domainColor": "#777", "domainWidth": 1.5, "labelOverlap": false, "grid": false}},
                "y": {"field": "freq", "type": "quantitative", "scale": {"domain": [0, 45], "nice": false},
                  "axis": {"values": [0,2.5,5,7.5,10,12.5,15,17.5,20,22.5,25,27.5,30,32.5,35,37.5,40,42.5,45], "labelExpr": "datum.value % 5 == 0 ? datum.label : ''", "title": null, "ticks": false, "domain": false, "labelFont": "Liberation Sans", "labelFontSize": 12, "labelColor": "#444", "labelPadding": 10,
                    "gridColor": {"condition": {"test": "datum.value % 5 == 0", "value": "#dcdcdc"}, "value": "#f1f1f1"}}},
                "color": {"datum": "Chiroptera (9397)", "type": "nominal", "scale": {"range": ["#29C7CB"]},
                  "legend": {"title": null, "orient": "right", "offset": 10, "padding": 0, "symbolType": "M-1,-0.5H1V0.5H-1Z", "symbolSize": 400, "symbolStrokeWidth": 0, "labelFont": "Liberation Sans", "labelFontSize": 11, "labelColor": "#333", "labelOffset": 4}}
              }
            }
          ]
        }
      ]
    }
  ]
}
